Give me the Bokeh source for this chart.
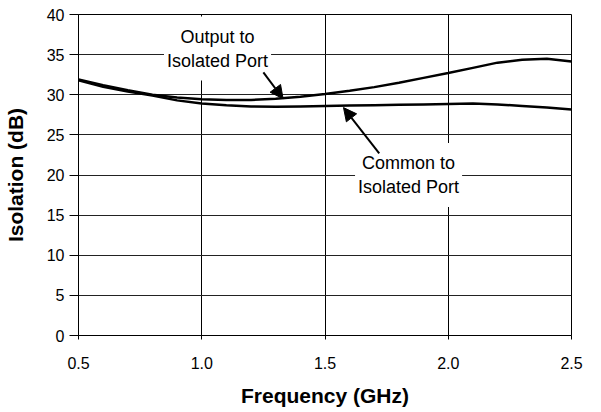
from bokeh.plotting import figure
from bokeh.models import (Range1d, FixedTicker, NumeralTickFormatter, Label, Arrow, NormalHead)
from bokeh.embed import file_html
from bokeh.resources import INLINE

freq = [0.5, 0.6, 0.7, 0.8, 0.9, 1.0, 1.1, 1.2, 1.3, 1.4, 1.5,
        1.6, 1.7, 1.8, 1.9, 2.0, 2.1, 2.2, 2.3, 2.4, 2.5]
output_iso = [31.9, 31.2, 30.55, 30.0, 29.65, 29.45, 29.35, 29.35, 29.5, 29.75, 30.1,
              30.5, 30.95, 31.5, 32.1, 32.7, 33.35, 34.0, 34.35, 34.5, 34.15]
common_iso = [31.8, 31.0, 30.4, 29.9, 29.3, 28.9, 28.7, 28.55, 28.5, 28.55, 28.6,
              28.65, 28.7, 28.75, 28.8, 28.85, 28.9, 28.8, 28.6, 28.4, 28.15]
x_ticks = [0.5, 1.0, 1.5, 2.0, 2.5]
y_ticks = [0, 5, 10, 15, 20, 25, 30, 35, 40]

FONT = "Liberation Sans"

p = figure(width=601, height=412, output_backend="svg", toolbar_location=None,
           x_range=Range1d(0.5, 2.5), y_range=Range1d(0, 40),
           min_border_left=78, min_border_right=30, min_border_top=14, min_border_bottom=77)
p.background_fill_color = "white"
p.border_fill_color = "white"
p.outline_line_color = "#000000"
p.outline_line_width = 1

for ax in (p.xaxis[0], p.yaxis[0]):
    ax.axis_line_color = "black"
    ax.major_tick_line_color = "black"
    ax.major_tick_in = 0
    ax.minor_tick_line_color = None
    ax.major_label_text_font = FONT
    ax.major_label_text_font_size = "16px"
    ax.major_label_text_color = "black"
    ax.axis_label_text_font = FONT
    ax.axis_label_text_font_size = "21px"
    ax.axis_label_text_font_style = "bold"
    ax.axis_label_text_color = "black"

p.xaxis.major_tick_out = 4
p.yaxis.major_tick_out = 9
p.xaxis.ticker = FixedTicker(ticks=x_ticks)
p.xaxis.formatter = NumeralTickFormatter(format="0.0")
p.yaxis.ticker = FixedTicker(ticks=y_ticks)
p.xaxis.axis_label = "Frequency (GHz)"
p.yaxis.axis_label = "Isolation (dB)"
p.xaxis.major_label_standoff = 17
p.yaxis.major_label_standoff = 5
p.xaxis.axis_label_standoff = 12
p.yaxis.axis_label_standoff = 17

p.xgrid.grid_line_color = "black"
p.ygrid.grid_line_color = "#222222"
p.xgrid.grid_line_width = 1
p.ygrid.grid_line_width = 1

p.line(freq, output_iso, line_color="black", line_width=2.5)
p.line(freq, common_iso, line_color="black", line_width=2.5)

lab1 = Label(x=1.064, y=35.76, text="Output to\nIsolated Port", text_align="center",
             text_baseline="middle", text_font=FONT, text_font_size="18px",
             text_color="black", background_fill_color="white", padding=(3, 10))
lab2 = Label(x=1.839, y=20.0, text="Common to\nIsolated Port", text_align="center",
             text_baseline="middle", text_font=FONT, text_font_size="18px",
             text_color="black", background_fill_color="white", padding=(3, 10))
p.add_layout(lab1)
p.add_layout(lab2)

p.add_layout(Arrow(x_start=1.25, y_start=32.8, x_end=1.33, y_end=29.5,
                   line_color="black", line_width=2,
                   end=NormalHead(size=13, fill_color="black", line_color="black")))
p.add_layout(Arrow(x_start=1.72, y_start=22.7, x_end=1.575, y_end=28.4,
                   line_color="black", line_width=2,
                   end=NormalHead(size=13, fill_color="black", line_color="black")))

open("out.html", "w").write(file_html(p, INLINE))
